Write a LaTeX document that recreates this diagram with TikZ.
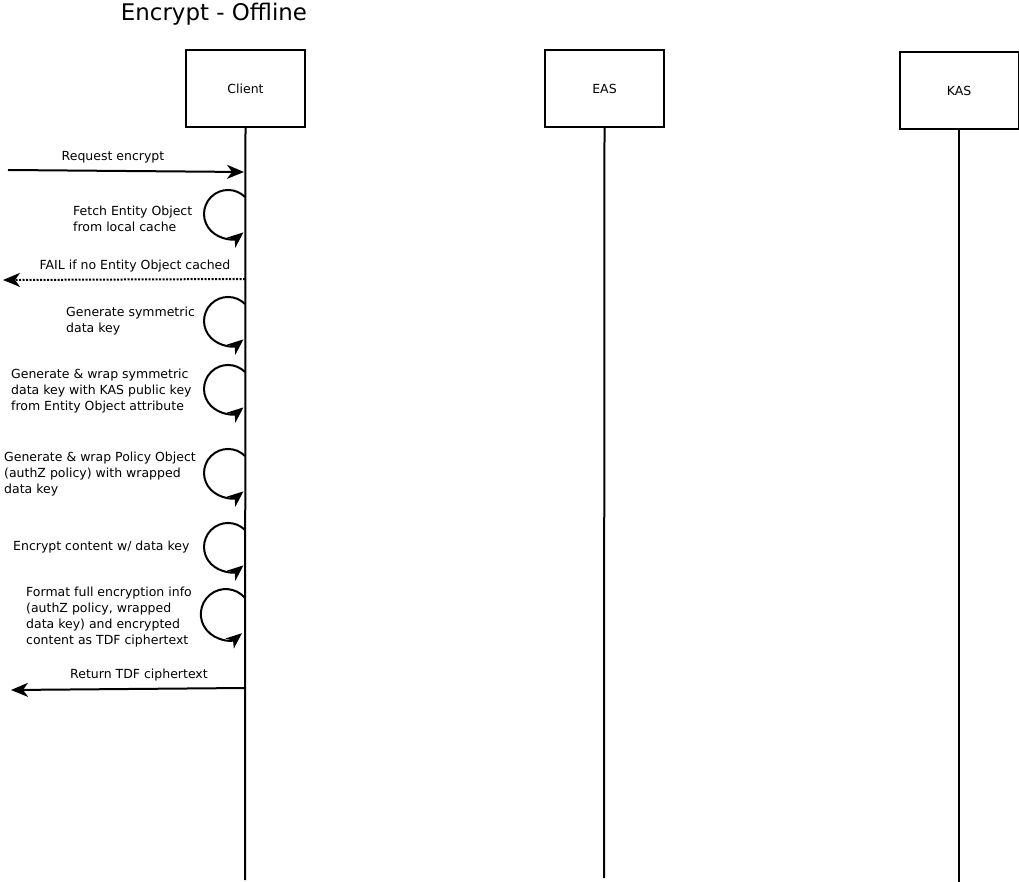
\documentclass[tikz,border=0pt]{standalone}
\usepackage{fontspec}
\setmainfont{DejaVu Sans}
\usetikzlibrary{arrows.meta, positioning}

\begin{document}
\begin{tikzpicture}[x=1pt, y=-1pt,
  actor/.style={draw, line width=2pt, minimum width=119pt, minimum height=77pt, inner sep=0pt, font=\fontsize{12.5}{16}\selectfont},
  life/.style={line width=2pt},
  msg/.style={line width=2pt, -{Stealth[length=17pt, width=14pt, inset=5pt]}},
  selfcall/.style={line width=2pt, -{Stealth[length=16pt, width=13pt, inset=4.5pt]}},
  note/.style={inner sep=0pt, align=left, anchor=west, font=\fontsize{12.5}{16}\selectfont}]
  \useasboundingbox (0,0) rectangle (1019,882);

  \node[font=\fontsize{22.9}{26}\selectfont] (title) at (214,14) {Encrypt - Offline};

  % participants
  \node[actor] (client) at (245.5,88.5) {Client};
  \node[actor] (eas) at (604.5,88.5) {EAS};
  \node[actor] (kas) at (959,90.5) {KAS};

  \coordinate (clientEnd) at (245,880);
  \coordinate (easEnd) at (604,878);
  \coordinate (kasEnd) at (959,882);
  \draw[life] (client.south) -- (clientEnd);
  \draw[life] (eas.south) -- (easEnd);
  \draw[life] (kas.south) -- (kasEnd);

  % request
  \coordinate (reqIn) at (8,170);
  \coordinate (reqAt) at (244,172);
  \draw[msg] (reqIn) -- (reqAt);
  \node[note, anchor=center] (reqLbl) at (113,157) {Request encrypt};

  % fetch from cache
  \coordinate (s1) at (245,197);
  \draw[selfcall] (s1) arc[start angle=-45, end angle=-310, radius=24];
  \node[note] (fetch) at (73,219) {Fetch Entity Object\\from local cache};

  % fail
  \coordinate (failAt) at (245,279);
  \coordinate (failOut) at (3,280);
  \draw[msg, dash pattern=on 2pt off 1.5pt] (failAt) -- (failOut);
  \node[note, anchor=center] (failLbl) at (135,266) {FAIL if no Entity Object cached};

  % generate key
  \coordinate (s2) at (245,304);
  \draw[selfcall] (s2) arc[start angle=-45, end angle=-310, radius=24];
  \node[note] (genkey) at (66,321) {Generate symmetric\\data key};

  % wrap key
  \coordinate (s3) at (245,372);
  \draw[selfcall] (s3) arc[start angle=-45, end angle=-310, radius=24];
  \node[note] (wrapkey) at (11,391) {Generate \& wrap symmetric\\data key with KAS public key\\from Entity Object attribute};

  % policy
  \coordinate (s4) at (245,456);
  \draw[selfcall] (s4) arc[start angle=-45, end angle=-310, radius=24];
  \node[note] (policy) at (4,474) {Generate \& wrap Policy Object\\(authZ policy) with wrapped\\data key};

  % encrypt
  \coordinate (s5) at (245,530);
  \draw[selfcall] (s5) arc[start angle=-45, end angle=-310, radius=24];
  \node[note] (enc) at (13,547) {Encrypt content w/ data key};

  % format
  \coordinate (s6) at (245,598);
  \draw[selfcall] (s6) arc[start angle=-40, end angle=-310, radius=25];
  \node[note] (fmt) at (26,617) {Format full encryption info\\(authZ policy, wrapped\\data key) and encrypted\\content as TDF ciphertext};

  % return
  \coordinate (retAt) at (245,688);
  \coordinate (retOut) at (11,690);
  \draw[msg] (retAt) -- (retOut);
  \node[note, anchor=center] (retLbl) at (139,675) {Return TDF ciphertext};
\end{tikzpicture}
\end{document}
